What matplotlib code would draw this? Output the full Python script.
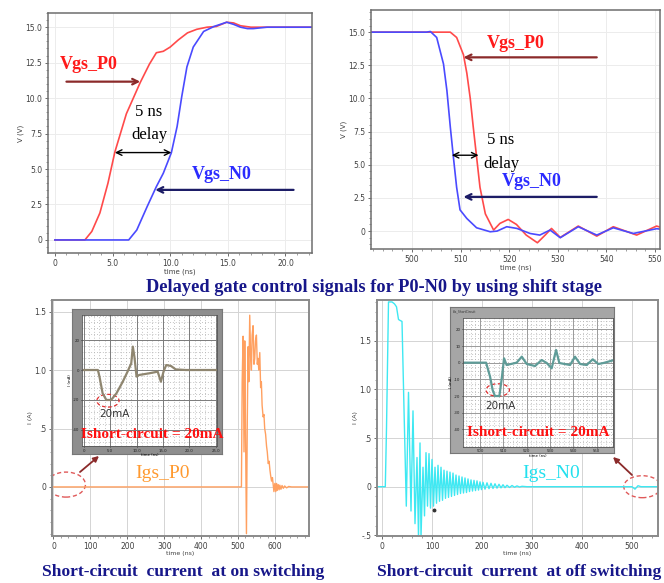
import numpy as np
import matplotlib
matplotlib.use('Agg')
import matplotlib.pyplot as plt
from matplotlib.patches import Ellipse, FancyArrowPatch

# ---------------- data ----------------
# Panel 1: turn-on gate signals (time ns, volts)
p1_p0_t = [0, 2.6, 3.2, 3.9, 4.6, 5.2, 6.2, 7.4, 8.2, 8.8, 9.4, 10.0, 10.7, 11.5, 12.3, 13.2, 14.0, 14.9, 15.5, 16.1, 17.0, 17.8, 19.0, 22.3]
p1_p0_v = [0, 0, 0.6, 1.9, 4.0, 6.2, 8.9, 11.1, 12.4, 13.2, 13.3, 13.6, 14.1, 14.6, 14.85, 15.0, 15.05, 15.35, 15.3, 15.1, 15.0, 15.0, 15.0, 15.0]
p1_n0_t = [0, 6.4, 7.1, 8.0, 8.8, 9.4, 10.1, 10.6, 11.0, 11.45, 12.0, 12.9, 13.8, 14.9, 15.5, 16.1, 16.7, 17.2, 18.4, 22.3]
p1_n0_v = [0, 0, 0.7, 2.35, 3.76, 4.7, 6.15, 8.0, 10.1, 12.2, 13.6, 14.7, 15.05, 15.35, 15.2, 15.0, 14.9, 14.9, 15.0, 15.0]

# Panel 2: turn-off gate signals
p2_p0_t = [491.6, 507.9, 509.2, 510.6, 511.3, 512.0, 512.6, 513.3, 514.0, 515.1, 516.8, 518.1, 519.8, 521.5, 523.5, 525.8, 527.4, 528.7, 530.5, 534.2, 538.0, 541.4, 546.2, 550.3, 551.0]
p2_p0_v = [15, 15, 14.6, 13.3, 11.9, 10.0, 7.9, 5.6, 3.3, 1.3, 0.08, 0.58, 0.88, 0.5, -0.3, -0.88, -0.3, 0.2, -0.48, 0.38, -0.38, 0.33, -0.3, 0.38, 0.3]
p2_n0_t = [491.6, 503.0, 503.8, 505.1, 506.5, 507.2, 507.9, 508.5, 509.2, 509.9, 511.3, 513.3, 516.1, 517.5, 519.5, 521.6, 524.3, 526.3, 528.4, 530.5, 534.2, 538.0, 541.4, 545.5, 550.3, 551.0]
p2_n0_v = [15, 15, 15.05, 14.6, 12.6, 10.6, 7.85, 5.7, 3.3, 1.6, 0.95, 0.25, -0.05, 0.0, 0.33, 0.2, -0.18, -0.3, 0.08, -0.5, 0.33, -0.3, 0.25, -0.18, 0.18, 0.15]

# Panel 3: Igs_P0 (time ns, current A)
p3_t = [0, 509, 511, 513.5, 516, 518, 520, 522.6, 525, 527, 529, 531.5, 534, 536, 538, 540.5, 543, 545, 547, 549.6,
        552, 554, 556, 558.7, 561, 563, 565, 567.7, 570, 572, 574.5, 577, 579, 581.6, 584, 586, 588, 590.6, 593, 595,
        597, 599.5, 602, 604, 606, 608.6, 611, 613, 616, 619, 622.4, 626, 631.4, 637, 645, 692]
p3_i = [0, 0, 0.9, 1.29, 0.3, 1.25, 0.5, -0.40, 0.6, 1.2, 0.9, 1.47, 1.1, 1.0, 1.3, 1.38, 1.05, 1.1, 1.25, 1.3,
        1.05, 1.1, 1.0, 1.15, 0.85, 0.9, 0.7, 0.6, 0.62, 0.5, 0.45, 0.35, 0.3, 0.2, 0.22, 0.15, 0.1, 0.05, 0.08, 0.02,
        -0.04, 0.03, -0.04, 0.03, -0.03, 0.02, -0.025, 0.015, -0.02, 0.012, -0.012, 0.008, -0.008, 0.004, 0, 0]

# Panel 4: Igs_N0
p4_t = [-10, 6.6, 9, 13, 20, 25, 29, 33, 36, 40, 44, 48.6, 53, 58, 62, 66, 70, 73, 76, 78,
        82, 85, 88, 91, 94, 97, 100, 103, 106, 109, 112, 115, 118, 121, 124, 127, 130, 133, 136, 139,
        142, 145, 148, 151, 154, 157, 160, 163, 166, 169, 172, 175, 178, 181, 184, 187, 190, 193, 196, 199,
        202, 206, 210, 214, 218, 222, 226, 230, 234, 238, 242, 246, 250, 255, 260, 265, 270, 275, 280, 290,
        500, 506, 512, 518, 552]
p4_i = [0, 0, 0.6, 1.9, 1.9, 1.88, 1.85, 1.72, 1.71, 1.7, 0.8, -0.2, 0.97, -0.25, 0.78, -0.38, 0.3, -0.52, 0.45, -0.52,
        0.2, -0.3, 0.35, -0.2, 0.34, -0.22, 0.28, -0.2, 0.2, -0.17, 0.22, -0.15, 0.2, -0.14, 0.17, -0.12, 0.16, -0.11, 0.15, -0.1,
        0.14, -0.09, 0.12, -0.08, 0.11, -0.07, 0.1, -0.065, 0.09, -0.06, 0.08, -0.05, 0.07, -0.045, 0.065, -0.04, 0.06, -0.035, 0.05, -0.03,
        0.045, -0.025, 0.04, -0.02, 0.035, -0.018, 0.03, -0.015, 0.025, -0.012, 0.02, -0.01, 0.015, -0.008, 0.012, -0.005, 0.008, -0.003, 0.004, 0,
        0, -0.025, 0.01, 0, 0]

# Insets (mA)
ins1_t = [0, 2.7, 3.0, 3.6, 4.3, 5.2, 6.2, 7.4, 8.3, 9.0, 9.3, 9.6, 10.0, 10.5, 12.4, 14.0, 14.6, 15.1, 15.6, 16.5, 17.4, 19.3, 25]
ins1_i = [0, 0, -4.4, -15.6, -20, -20, -15.6, -7.8, -1.1, 4.4, 15.6, 8.9, -4.4, -3.3, -2.2, -1.1, -7.8, -1.1, 3.3, 2.7, 0.4, 0, 0]
ins2_t = [492.7, 502.6, 504.3, 505.4, 506.4, 508.3, 509.3, 510.3, 511.4, 515.7, 517.9, 520.0, 523.6, 526.4, 528.6, 530.7, 532.6, 534.0, 538.6, 540.7, 542.9, 545.7, 548.3, 550.7, 552.9, 557]
ins2_i = [0, 0, -8.4, -16.4, -20, -20, -9.6, 2.6, -1.4, 0, 3.6, -0.8, -2, 1.6, -0.2, -3.4, 7.6, -0.2, -1.4, 3.6, -0.8, -1.4, 2.0, -0.8, -0.2, 1.4]

v_ticks = [0, 2.5, 5, 7.5, 10, 12.5, 15]
v_ticklabels = ['0', '2.5', '5.0', '7.5', '10.0', '12.5', '15.0']
p1_xticks = [0, 5, 10, 15, 20]
p1_xticklabels = ['0', '5.0', '10.0', '15.0', '20.0']
p2_xticks = [500, 510, 520, 530, 540, 550]
p3_xticks = [0, 100, 200, 300, 400, 500, 600]
p3_yticks = [0, 0.5, 1.0, 1.5]
p3_yticklabels = ['0', '.5', '1.0', '1.5']
p4_xticks = [0, 100, 200, 300, 400, 500]
p4_yticks = [-0.5, 0, 0.5, 1.0, 1.5]
p4_yticklabels = ['-.5', '0', '.5', '1.0', '1.5']
ins1_xticks = [0, 5, 10, 15, 20, 25]
ins1_xticklabels = ['0', '5.0', '10.0', '15.0', '20.0', '25.0']
ins1_yticks = [-40, -20, 0, 20]
ins2_xticks = [500, 510, 520, 530, 540, 550]
ins2_yticks = [-40, -30, -20, -10, 0, 10, 20]

title_text = 'Delayed gate control signals for P0-N0 by using shift stage'
caption_on = 'Short-circuit  current  at on switching'
caption_off = 'Short-circuit  current  at off switching'

# ---------------- figure ----------------
W, H = 664, 583
fig = plt.figure(figsize=(W / 100, H / 100), dpi=100)
fig.patch.set_facecolor('white')
SERIF = ['Liberation Serif', 'DejaVu Serif']
NAVY = '#17178a'
RED_T = '#ff1a1a'
BLUE_T = '#2b2bff'
DARKRED = '#8b2a2a'
DARKNAVY = '#1c1c66'


def ax_at(l, t, r, b):
    return fig.add_axes([l / W, 1 - b / H, (r - l) / W, (b - t) / H])


def fp(x, y):
    return (x / W, 1 - y / H)


def style_main(ax, grid_color):
    for s in ax.spines.values():
        s.set_color('#6e6e6e')
        s.set_linewidth(1.1)
    ax.tick_params(labelsize=5.5, labelcolor='#404040', color='#555', length=2.5, width=0.6, pad=1.5)
    ax.tick_params(which='minor', length=1.3, width=0.5, color='#777')
    ax.grid(True, which='major', color=grid_color, lw=0.7)
    ax.set_axisbelow(True)


# ---- Panel 1 ----
ax1 = ax_at(48, 13, 312, 253)
ax1.plot(p1_p0_t, p1_p0_v, color='#ff4a4a', lw=1.2)
ax1.plot(p1_n0_t, p1_n0_v, color='#4a4aff', lw=1.2)
ax1.set_xlim(-0.6, 22.3)
ax1.set_ylim(-0.92, 16.0)
ax1.set_xticks(p1_xticks, p1_xticklabels)
ax1.set_yticks(v_ticks, v_ticklabels)
ax1.minorticks_on()
style_main(ax1, '#ececec')
ax1.set_xlabel('time (ns)', fontsize=5, labelpad=0.5, color='#404040')
ax1.set_ylabel('V (V)', fontsize=5, labelpad=1, color='#404040')
ax1.text(0.43, 12.35, 'Vgs_P0', color=RED_T, fontsize=13, fontweight='bold', family=SERIF, va='center', ha='left')
ax1.annotate('', xy=(7.4, 11.16), xytext=(1.0, 11.16),
             arrowprops=dict(arrowstyle='->', color=DARKRED, lw=1.6, shrinkA=0, shrinkB=0, mutation_scale=10))
ax1.text(8.17, 9.0, '5 ns', fontsize=12, family=SERIF, ha='center', va='center')
ax1.text(8.2, 7.4, 'delay', fontsize=12, family=SERIF, ha='center', va='center')
ax1.annotate('', xy=(10.1, 6.16), xytext=(5.2, 6.16),
             arrowprops=dict(arrowstyle='<->', color='black', lw=1.0, shrinkA=0, shrinkB=0, mutation_scale=10))
ax1.text(11.9, 4.58, 'Vgs_N0', color=BLUE_T, fontsize=13, fontweight='bold', family=SERIF, va='center', ha='left')
ax1.annotate('', xy=(8.7, 3.53), xytext=(20.7, 3.53),
             arrowprops=dict(arrowstyle='->', color=DARKNAVY, lw=1.6, shrinkA=0, shrinkB=0, mutation_scale=10))

# ---- Panel 2 ----
ax2 = ax_at(371, 10, 660, 249)
ax2.plot(p2_p0_t, p2_p0_v, color='#ff4a4a', lw=1.2)
ax2.plot(p2_n0_t, p2_n0_v, color='#4a4aff', lw=1.2)
ax2.set_xlim(491.6, 551)
ax2.set_ylim(-1.35, 16.67)
ax2.set_xticks(p2_xticks, [str(v) for v in p2_xticks])
ax2.set_yticks(v_ticks, v_ticklabels)
ax2.minorticks_on()
style_main(ax2, '#ececec')
ax2.set_xlabel('time (ns)', fontsize=5, labelpad=0.5, color='#404040')
ax2.set_ylabel('V (V)', fontsize=5, labelpad=1, color='#404040')
ax2.text(515.4, 14.12, 'Vgs_P0', color=RED_T, fontsize=13, fontweight='bold', family=SERIF, va='center', ha='left')
ax2.annotate('', xy=(510.6, 13.1), xytext=(538.0, 13.1),
             arrowprops=dict(arrowstyle='->', color=DARKRED, lw=1.6, shrinkA=0, shrinkB=0, mutation_scale=10))
ax2.text(515.4, 6.85, '5 ns', fontsize=12, family=SERIF, ha='left', va='center')
ax2.text(514.7, 5.09, 'delay', fontsize=12, family=SERIF, ha='left', va='center')
ax2.annotate('', xy=(513.7, 5.72), xytext=(508.2, 5.72),
             arrowprops=dict(arrowstyle='<->', color='black', lw=1.0, shrinkA=0, shrinkB=0, mutation_scale=10))
ax2.text(518.5, 3.71, 'Vgs_N0', color=BLUE_T, fontsize=13, fontweight='bold', family=SERIF, va='center', ha='left')
ax2.annotate('', xy=(510.6, 2.58), xytext=(538.0, 2.58),
             arrowprops=dict(arrowstyle='->', color=DARKNAVY, lw=1.6, shrinkA=0, shrinkB=0, mutation_scale=10))

# ---- title ----
fig.text(*fp(374, 288), title_text, fontsize=13.2, fontweight='bold', family=SERIF, color=NAVY,
         ha='center', va='center')

# ---- Panel 3 ----
ax3 = ax_at(52, 300, 309, 536)
ax3.plot(p3_t, p3_i, color='#ffa060', lw=1.0)
ax3.set_xlim(-4, 692)
ax3.set_ylim(-0.42, 1.6)
ax3.set_xticks(p3_xticks, [str(v) for v in p3_xticks])
ax3.set_yticks(p3_yticks, p3_yticklabels)
ax3.minorticks_on()
style_main(ax3, '#d4d4d4')
for s in ax3.spines.values():
    s.set_color('#8a8a8a')
    s.set_linewidth(1.4)
ax3.set_xlabel('time (ns)', fontsize=4.5, labelpad=0.5, color='#404040')
ax3.set_ylabel('I (A)', fontsize=4.5, labelpad=1, color='#404040')
ax3.add_patch(Ellipse((34, 0.02), 105, 0.214, fill=False, ls=(0, (3, 2)), color='#e05a5a', lw=1.0))

# ---- Panel 4 ----
ax4 = ax_at(377, 300, 658, 536)
ax4.plot(p4_t, p4_i, color='#3ee8f2', lw=1.0)
ax4.plot([105], [-0.24], marker='o', ms=1.8, color='#333')
ax4.set_xlim(-10, 552)
ax4.set_ylim(-0.507, 1.92)
ax4.set_xticks(p4_xticks, [str(v) for v in p4_xticks])
ax4.set_yticks(p4_yticks, p4_yticklabels)
ax4.minorticks_on()
style_main(ax4, '#d4d4d4')
for s in ax4.spines.values():
    s.set_color('#8a8a8a')
    s.set_linewidth(1.4)
ax4.set_xlabel('time (ns)', fontsize=4.5, labelpad=0.5, color='#404040')
ax4.set_ylabel('I (A)', fontsize=4.5, labelpad=1, color='#404040')
ax4.add_patch(Ellipse((520.6, 0.0), 74, 0.226, fill=False, ls=(0, (3, 2)), color='#e05a5a', lw=1.0))

# series labels
fig.text(*fp(135, 474), 'Igs_P0', color='#ff9a30', fontsize=14, family=SERIF, ha='left', va='center')
fig.text(*fp(522, 473), 'Igs_N0', color='#22e0ee', fontsize=14, family=SERIF, ha='left', va='center')


# ---- insets ----
def make_inset(outer, inner, fc_outer, xlim, ylim, xt, xtl, yt, t, i, line_color, grid_major, minor_x, minor_y):
    bg = ax_at(*outer)
    bg.set_facecolor(fc_outer)
    bg.set_xticks([])
    bg.set_yticks([])
    for s in bg.spines.values():
        s.set_color('#777')
        s.set_linewidth(0.8)
    ax = ax_at(*inner)
    ax.set_facecolor('white')
    ax.plot(t, i, color=line_color, lw=1.6)
    ax.set_xlim(*xlim)
    ax.set_ylim(*ylim)
    ax.set_xticks(xt, xtl)
    ax.set_yticks(yt, [str(v) for v in yt])
    ax.set_xticks(minor_x, minor=True)
    ax.set_yticks(minor_y, minor=True)
    ax.grid(True, which='major', color=grid_major, lw=0.7)
    ax.grid(True, which='minor', color='#b0b0b0', lw=0.6, ls=(0, (1, 2.5)))
    ax.set_axisbelow(True)
    ax.tick_params(labelsize=2.8, length=1, width=0.4, pad=0.8, labelcolor='#222')
    ax.tick_params(which='minor', length=0)
    for s in ax.spines.values():
        s.set_color('#555')
        s.set_linewidth(0.6)
    ax.set_ylabel('I (mA)', fontsize=2.8, labelpad=1)
    ax.set_xlabel('time (ns)', fontsize=2.8, labelpad=0.5)
    return ax


in1 = make_inset((72, 309, 222, 454), (82, 315, 217, 446), '#8e8e8e', (-0.3, 25.2), (-50.7, 36.7),
                 ins1_xticks, ins1_xticklabels, ins1_yticks, ins1_t, ins1_i, '#8f8670', '#7a7a7a',
                 np.arange(0, 25.1, 1.0), np.arange(-48, 37, 4.0))
in1.add_patch(Ellipse((4.6, -20.5), 4.2, 8.5, fill=False, ls=(0, (3, 2)), color='#e03030', lw=0.9))
in1.text(3.0, -29.5, '20mA', fontsize=7.5, color='#333', ha='left', va='center')

in2 = make_inset((450, 307, 614, 453), (463, 318, 613, 447), '#a6a6a6', (492.7, 557), (-50.6, 26.8),
                 ins2_xticks, [str(v) for v in ins2_xticks], ins2_yticks, ins2_t, ins2_i, '#5f9c98', '#9a9a9a',
                 np.arange(494, 557, 2.0), np.arange(-50, 27, 2.5))
in2.add_patch(Ellipse((507.6, -16.4), 10.0, 7.5, fill=False, ls=(0, (3, 2)), color='#e03030', lw=0.9))
in2.text(502.3, -26.0, '20mA', fontsize=7.5, color='#333', ha='left', va='center')
fig.text(*fp(453, 311), 'Ids_ShortCircuit', fontsize=2.2, color='#333', ha='left', va='center')

fig.text(*fp(152, 435), 'Ishort-circuit = 20mA', fontsize=11, fontweight='bold', family=SERIF,
         color='#ff1010', ha='center', va='center')
fig.text(*fp(538, 432), 'Ishort-circuit = 20mA', fontsize=11, fontweight='bold', family=SERIF,
         color='#ff1010', ha='center', va='center')

# arrows from zoom circles to insets
fig.add_artist(FancyArrowPatch(fp(80, 472), fp(99, 456), transform=fig.transFigure, arrowstyle='-|>',
                               mutation_scale=8, color=DARKRED, lw=1.3, shrinkA=0, shrinkB=0))
fig.add_artist(FancyArrowPatch(fp(632, 475), fp(613, 457), transform=fig.transFigure, arrowstyle='-|>',
                               mutation_scale=8, color=DARKRED, lw=1.3, shrinkA=0, shrinkB=0))

# captions
fig.text(*fp(183, 572), caption_on, fontsize=12.6, fontweight='bold', family=SERIF, color=NAVY,
         ha='center', va='center')
fig.text(*fp(519, 572), caption_off, fontsize=12.6, fontweight='bold', family=SERIF, color=NAVY,
         ha='center', va='center')

fig.savefig('out.png', dpi=100, facecolor='white')
